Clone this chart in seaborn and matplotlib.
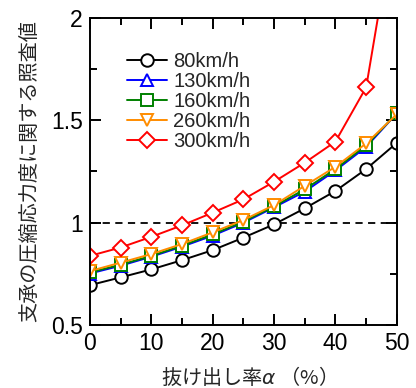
import numpy as np
import pandas as pd
import matplotlib
matplotlib.use("Agg")
import matplotlib.pyplot as plt
from matplotlib.ticker import MultipleLocator
import seaborn as sns

sns.set_style("ticks")
plt.rcParams["font.family"] = ["Liberation Sans", "Noto Sans CJK JP", "DejaVu Sans"]
plt.rcParams["mathtext.fontset"] = "custom"
plt.rcParams["mathtext.rm"] = "Noto Sans CJK JP"
plt.rcParams["mathtext.it"] = "DejaVu Sans:italic"

alpha = [0, 5, 10, 15, 20, 25, 30, 35, 40, 45, 50]
v80 = [0.695, 0.733, 0.772, 0.817, 0.866, 0.927, 0.992, 1.070, 1.155, 1.262, 1.390]
v130 = [0.752, 0.790, 0.834, 0.883, 0.937, 1.000, 1.075, 1.152, 1.255, 1.370, 1.534]
v160 = [0.757, 0.795, 0.838, 0.888, 0.943, 1.005, 1.080, 1.163, 1.262, 1.378, 1.534]
v260 = [0.764, 0.805, 0.847, 0.896, 0.953, 1.013, 1.086, 1.180, 1.273, 1.387, 1.530]
v300 = [0.838, 0.879, 0.931, 0.987, 1.049, 1.114, 1.200, 1.293, 1.396, 1.661, 2.550]

series = [
    ("80km/h", v80, "black", "o", 9),
    ("130km/h", v130, "#0000ff", "^", 9),
    ("160km/h", v160, "#008000", "s", 8.5),
    ("260km/h", v260, "#ff8c00", "v", 9),
    ("300km/h", v300, "#ff0000", "D", 8),
]

fig = plt.figure(figsize=(4.16, 3.88), dpi=100)
ax = fig.add_axes([0.216, 0.162, 0.738, 0.792])

for name, vals, col, mk, ms in series:
    df = pd.DataFrame({"a": alpha, "v": vals})
    sns.lineplot(data=df, x="a", y="v", ax=ax, color=col, marker=mk,
                 markersize=ms, markerfacecolor="white", markeredgecolor=col,
                 markeredgewidth=1.4, linewidth=1.4, label=name)

ax.axhline(1.0, color="black", linestyle=(0, (4, 3)), linewidth=1.3, zorder=0)

ax.set_xlim(0, 50)
ax.set_ylim(0.5, 2)
ax.xaxis.set_major_locator(MultipleLocator(10))
ax.xaxis.set_minor_locator(MultipleLocator(5))
ax.yaxis.set_minor_locator(MultipleLocator(0.25))
ax.set_yticks([0.5, 1, 1.5, 2])
ax.set_yticklabels(["0.5", "1", "1.5", "2"])
ax.tick_params(which="both", direction="in", top=True, right=True,
               labelsize=16.5, width=1.4, colors="black", pad=5)
ax.tick_params(which="major", length=8)
ax.tick_params(which="minor", length=5)
for s in ax.spines.values():
    s.set_linewidth(1.4)
    s.set_color("black")

ax.set_xlabel("抜け出し率$\\alpha$ （%）", fontsize=14.5, labelpad=8,
              family=["Noto Sans CJK JP", "DejaVu Sans"])
ax.set_ylabel("支承の圧縮応力度に関する照査値", fontsize=14.5, labelpad=8,
              family=["Noto Sans CJK JP", "DejaVu Sans"])

leg = ax.legend(loc="upper left", bbox_to_anchor=(0.095, 0.915), frameon=False,
                fontsize=14.5, handlelength=2.0, handletextpad=0.3,
                labelspacing=0.05, borderaxespad=0)

fig.savefig("out.png", dpi=100)
